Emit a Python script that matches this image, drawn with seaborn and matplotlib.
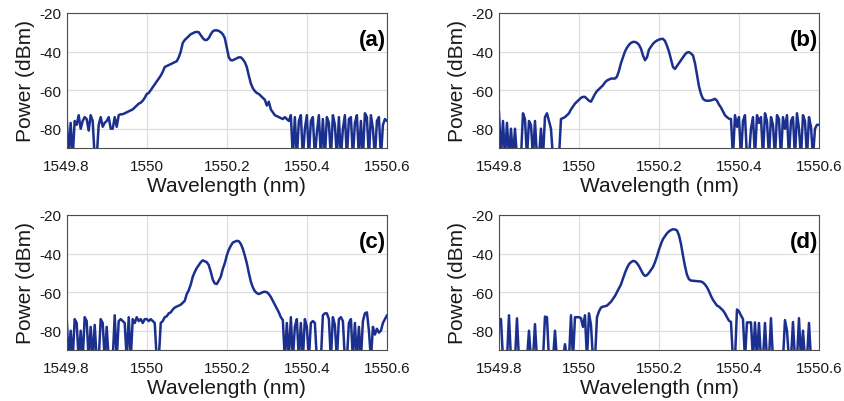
import matplotlib
matplotlib.use("Agg")
import matplotlib.pyplot as plt
import numpy as np
import pandas as pd
import seaborn as sns

# OSA sampling grid: 1549.8 .. 1550.6 nm, 0.005 nm step (161 points)
wl_start = 1549.8
wl_step = 0.005
n_points = 161

# power traces (dBm); -95 means below the displayed floor
power_a = [
    -74, -95, -77, -95, -76, -78, -73, -80, -76, -74,
    -75, -81, -73, -76, -95, -95, -78, -74, -79, -77,
    -76, -74, -80, -80, -74, -79, -73, -72.5, -72.5, -72,
    -71.5, -71, -70.5, -70, -69, -68, -67, -66.5, -65.5, -64,
    -62, -61.5, -60, -58.5, -57, -55.5, -54, -52.5, -50.5, -48,
    -47.5, -47, -46.5, -46, -45.5, -45, -43, -40, -35.5, -34,
    -33, -32, -31, -30.5, -30, -29.8, -30, -31.5, -33, -34,
    -34, -33, -31, -29.5, -29, -29, -29.3, -30, -31, -33,
    -38, -43, -44.5, -44.5, -44, -43.5, -43, -43, -44, -45.5,
    -48, -52.5, -56.5, -59, -60.5, -61.5, -62, -63, -64, -65,
    -68, -66, -70, -71.5, -73, -73.5, -74, -74.5, -75, -74,
    -75, -76, -73, -95, -74, -95, -76, -73, -95, -80,
    -73, -95, -76, -74, -95, -82, -73, -95, -75, -95,
    -74, -77, -95, -73, -78, -95, -74, -95, -80, -73,
    -95, -75, -74, -95, -77, -73, -95, -76, -95, -72,
    -74, -95, -73, -80, -95, -76, -74, -95, -78, -75,
    -76,
]
power_b = [
    -71, -95, -76, -95, -77, -95, -80, -95, -80, -95,
    -95, -95, -72, -75, -95, -76, -78, -95, -76, -95,
    -95, -80, -95, -74, -72, -76, -80, -95, -95, -95,
    -95, -75, -74.5, -74, -73, -72, -70, -68.5, -67, -66,
    -65, -64, -63.5, -63.5, -64.5, -65.5, -66, -64, -62, -60.5,
    -59.5, -58.5, -57.5, -56, -55, -54.5, -54, -54, -54, -53,
    -50, -46, -43, -40, -38, -36.5, -35.5, -35, -35, -35.5,
    -36.5, -38.5, -42, -44.5, -43, -39, -37.5, -36, -35, -34.3,
    -33.8, -33.5, -33.4, -34.5, -37, -40, -44, -48, -49, -47.5,
    -46, -44.5, -43, -41.5, -40.5, -40.3, -41, -42, -46, -52,
    -58, -62, -64.5, -65.3, -65.5, -65.5, -65.3, -65, -64.5, -65.5,
    -67.5, -69, -71, -73, -74, -74.8, -75, -95, -73, -79,
    -74, -95, -76, -73, -95, -95, -80, -74, -95, -73,
    -77, -74, -95, -72, -76, -95, -74, -78, -95, -73,
    -75, -95, -74, -80, -73, -95, -76, -74, -95, -72,
    -80, -95, -73, -76, -95, -74, -79, -95, -80, -78,
    -78,
]
power_c = [
    -73, -95, -80, -95, -74, -76, -95, -80, -95, -73,
    -75, -95, -78, -95, -77, -95, -95, -74, -76, -95,
    -78, -95, -95, -95, -72, -95, -75, -74, -75, -76,
    -95, -73, -95, -74, -76, -73, -75, -74, -76, -74,
    -74, -75, -74, -75, -76, -95, -95, -76, -75, -73,
    -72.5, -71, -70.5, -69, -68, -67.5, -67, -66.5, -65.5, -64.5,
    -61, -59, -56, -52, -49.5, -47.5, -46, -44.5, -43.5, -44,
    -44.5, -46, -49.5, -53.5, -55.5, -55.8, -54, -52, -48, -45,
    -41, -38, -36, -34.3, -33.8, -33.4, -33.6, -35, -37.5, -41,
    -45, -50, -54.5, -57.5, -59.5, -60.5, -61, -60.5, -60, -59.8,
    -60, -61, -62.5, -64.5, -66.5, -68.5, -70.5, -73, -74.5, -95,
    -76, -95, -73, -95, -78, -74, -95, -76, -95, -74,
    -78, -95, -76, -75, -76, -95, -95, -95, -72, -71,
    -71, -74, -95, -73, -77, -95, -74, -73, -75, -95,
    -95, -76, -74, -95, -76, -95, -78, -95, -75, -71,
    -70.5, -80, -95, -78, -82, -79, -81, -80, -76, -74,
    -72,
]
power_d = [
    -74, -74, -95, -95, -95, -72, -95, -95, -95, -73.6,
    -95, -95, -95, -95, -95, -80, -95, -95, -76.6, -95,
    -95, -95, -95, -72.7, -73, -95, -95, -95, -80, -95,
    -95, -95, -95, -87, -95, -95, -72, -95, -73, -73,
    -73, -73.5, -78, -72, -95, -71, -77, -95, -95, -73,
    -70, -68, -67.5, -67.3, -67, -66, -65, -63.5, -62, -60,
    -58, -56, -53, -50, -47.5, -45.5, -44.5, -43.8, -44, -45,
    -46.5, -48.5, -50.5, -51.6, -51.2, -50, -48.5, -47, -44.5, -41.5,
    -38, -35, -32.5, -31, -29.5, -28.5, -27.8, -27.4, -27.5, -28,
    -30.5, -35, -41, -46.5, -51, -53.3, -54, -54.1, -54.2, -54.3,
    -54.4, -54.5, -55, -56, -57.5, -59.5, -62, -64, -65.5, -67,
    -67.5, -68.5, -69.5, -71, -73, -74.8, -75.5, -95, -95, -69,
    -70, -72, -74, -95, -75.7, -75.7, -75.7, -95, -75.7, -95,
    -76, -95, -95, -76, -95, -95, -73.5, -95, -95, -95,
    -95, -95, -95, -74.5, -80, -95, -95, -75.5, -95, -95,
    -73.5, -95, -80, -95, -95, -76, -95, -95, -95, -95,
    -95,
]

panel_tags = ["(a)", "(b)", "(c)", "(d)"]
x_ticks = [1549.8, 1550.0, 1550.2, 1550.4, 1550.6]
x_tick_labels = ["1549.8", "1550", "1550.2", "1550.4", "1550.6"]
y_ticks = [-80, -60, -40, -20]
y_tick_labels = ["-80", "-60", "-40", "-20"]


def main():
    sns.set_style("white")
    plt.rcParams["font.family"] = ["Liberation Sans", "DejaVu Sans"]

    wavelength = np.round(wl_start + wl_step * np.arange(n_points), 3)
    frames = []
    for tag, power in zip(panel_tags, [power_a, power_b, power_c, power_d]):
        frames.append(pd.DataFrame({"wavelength": wavelength, "power": power, "panel": tag}))
    df = pd.concat(frames, ignore_index=True)

    fig = plt.figure(figsize=(8.45, 4.02), dpi=100)
    positions = [
        [0.0789, 0.6294, 0.3790, 0.3358],
        [0.5905, 0.6294, 0.3787, 0.3358],
        [0.0789, 0.1269, 0.3790, 0.3358],
        [0.5905, 0.1269, 0.3787, 0.3358],
    ]
    for tag, pos in zip(panel_tags, positions):
        ax = fig.add_axes(pos)
        sns.lineplot(
            data=df[df["panel"] == tag],
            x="wavelength",
            y="power",
            ax=ax,
            color="#1b2f8e",
            linewidth=1.8,
            estimator=None,
            sort=False,
        )
        ax.set_xlim(1549.8, 1550.6)
        ax.set_ylim(-90, -20)
        ax.set_xticks(x_ticks)
        ax.set_xticklabels(x_tick_labels)
        ax.set_yticks(y_ticks)
        ax.set_yticklabels(y_tick_labels)
        ax.grid(True, color="#dedede", linewidth=0.9)
        ax.set_axisbelow(True)
        for spine in ax.spines.values():
            spine.set_color("#4d4d4d")
            spine.set_linewidth(0.8)
        ax.tick_params(axis="x", pad=8)
        ax.tick_params(axis="y", pad=4)
        ax.tick_params(axis="both", direction="in", length=3, width=0.6,
                       colors="#4d4d4d", labelcolor="#1a1a1a", labelsize=11)
        ax.set_xlabel("Wavelength (nm)", fontsize=15, color="#1a1a1a", labelpad=2)
        ax.set_ylabel("Power (dBm)", fontsize=15, color="#1a1a1a", labelpad=3)
        ax.text(0.997, 0.80, tag, transform=ax.transAxes, ha="right", va="center",
                fontsize=16, fontweight="bold", color="black")

    fig.savefig("out.png", dpi=100)


if __name__ == "__main__":
    main()
